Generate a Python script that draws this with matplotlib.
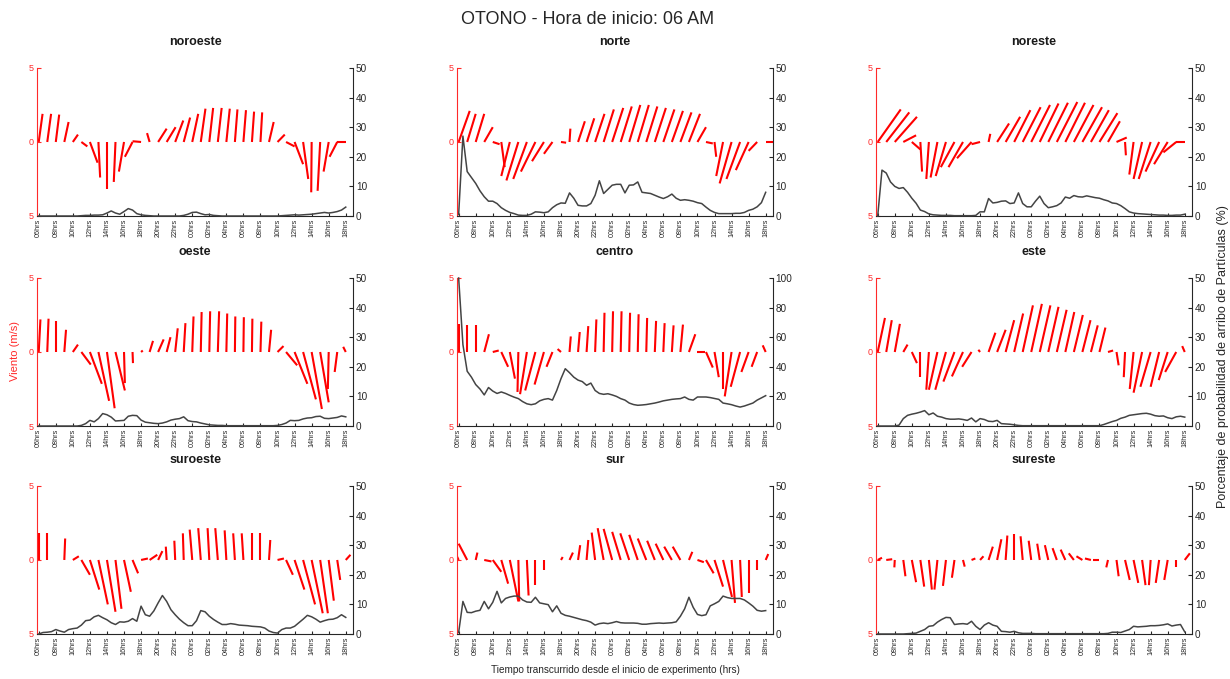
import numpy as np
import matplotlib
matplotlib.use('Agg')
import matplotlib.pyplot as plt
from matplotlib.collections import LineCollection

plt.rcParams['font.family'] = ['Liberation Sans', 'DejaVu Sans']

# ---- datos ----
tick_hours = [0, 2, 4, 6, 8, 10, 12, 14, 16, 18, 20, 22, 24, 26, 28, 30, 32, 34, 36]
tick_labels = ['06hrs', '08hrs', '10hrs', '12hrs', '14hrs', '16hrs', '18hrs', '20hrs', '22hrs',
               '00hrs', '02hrs', '04hrs', '06hrs', '08hrs', '10hrs', '12hrs', '14hrs', '16hrs', '18hrs']
wind_hours = np.arange(37)          # un vector de viento por hora
prob_hours = np.arange(73) * 0.5    # probabilidad cada media hora

# viento (componentes u, v en m/s)
u_noroeste = [0.45, 0.45, 0.4, 0.5, 0.6, 0.7, 0.9, 0.2, 0.0, -0.2, -0.6, -0.9, -1.0, -0.3, 1.0, 1.05, 0.95, 0.75, 0.7,
              0.55, 0.45, 0.45, 0.4, 0.3, 0.3, 0.25, 0.2, 0.55, 0.85, 1.0, 1.0, 0.6, -0.05, -0.3, -0.6, -0.9, -1.0]
v_noroeste = [1.9, 1.9, 1.85, 1.35, 0.5, -0.3, -1.4, -2.4, -3.2, -2.7, -2.0, -1.0, 0.05, 0.6, 0.9, 1.0, 1.45, 1.65, 1.9,
              2.25, 2.3, 2.3, 2.25, 2.2, 2.15, 2.05, 2.0, 1.35, 0.5, -0.3, -1.5, -2.5, -3.4, -3.3, -2.0, -1.0, 0.0]
u_norte = [1.3, 1.0, 1.0, 1.0, 0.8, 0.4, -1.0, -1.4, -1.6, -1.7, -1.4, -1.0, 0.6, 0.1, 0.8, 0.9, 1.1, 1.2, 1.3,
           1.3, 1.3, 1.3, 1.3, 1.3, 1.3, 1.3, 1.3, 1.3, 1.0, 0.8, 0.2, -0.8, -1.4, -1.6, -1.5, -1.0, 0.9]
v_norte = [2.1, 1.9, 1.9, 1.0, -0.15, -1.7, -2.3, -2.6, -2.5, -2.0, -1.3, -0.8, -0.05, 0.9, 1.4, 1.6, 1.9, 2.2, 2.3,
           2.4, 2.5, 2.5, 2.4, 2.3, 2.2, 2.1, 2.0, 1.9, 1.0, -0.1, -1.0, -2.3, -2.8, -2.5, -1.9, -0.6, 0.0]
u_noreste = [2.7, 2.7, 2.6, 1.5, 1.0, 0.2, -0.3, -0.8, -1.2, -1.6, -1.7, -1.7, -1.0, 0.2, 1.4, 1.7, 1.9, 2.1, 2.2,
             2.2, 2.3, 2.4, 2.3, 2.3, 2.3, 2.1, 2.1, 1.4, 1.2, 0.1, -0.5, -1.0, -1.4, -1.6, -1.6, -1.5, -1.0]
v_noreste = [2.2, 2.0, 1.7, 0.45, -0.5, -2.0, -2.5, -2.4, -2.3, -1.7, -1.7, -1.1, -0.15, 0.55, 1.25, 1.7, 2.15, 2.35,
             2.5, 2.6, 2.65, 2.7, 2.65, 2.5, 2.35, 2.15, 1.95, 1.4, 0.3, -0.9, -2.2, -2.5, -2.5, -2.0, -1.5, -0.7, 0.0]
u_oeste = [0.2, 0.15, 0.0, 0.2, 0.6, 1.1, 1.4, 1.25, 0.9, 1.1, 0.1, 0.05, 0.2, 0.4, 0.65, 0.45, 0.3, 0.2, 0.15,
           0.1, 0.1, 0.15, 0.1, 0.05, 0.05, 0.05, 0.1, 0.25, 0.7, 1.3, 1.5, 1.5, 1.2, 1.0, -0.1, -0.3, -0.3]
v_oeste = [2.2, 2.25, 2.1, 1.5, 0.5, -0.85, -2.15, -3.3, -3.8, -2.6, -2.1, -0.75, 0.1, 0.75, 0.85, 1.0, 1.6, 1.95, 2.4,
           2.7, 2.75, 2.75, 2.6, 2.4, 2.35, 2.25, 2.05, 1.5, 0.4, -0.9, -2.15, -3.2, -3.85, -3.4, -2.5, -1.35, 0.35]
u_centro = [0.0, 0.0, 0.0, 0.55, 0.7, 0.8, 0.6, -0.1, -0.8, -1.2, -1.1, -0.7, -0.4, 0.15, 0.2, 0.2, 0.15, 0.1, 0.1,
            0.1, 0.1, 0.1, 0.1, 0.15, 0.15, 0.2, 0.3, 0.75, 0.85, 0.8, 0.5, 0.0, -0.8, -1.1, -0.85, -0.65, -0.35]
v_centro = [1.9, 1.8, 1.85, 1.2, 0.1, -1.0, -1.8, -2.7, -2.85, -2.6, -2.2, -1.0, 0.2, 1.05, 1.35, 1.75, 2.2, 2.65, 2.75,
            2.75, 2.65, 2.55, 2.3, 2.1, 1.95, 1.8, 1.85, 1.2, 0.0, -1.05, -1.7, -2.5, -3.0, -2.35, -1.35, -1.0, 0.45]
u_este = [0.85, 0.65, 0.6, 0.5, 0.6, 0.0, -0.3, -1.0, -1.25, -1.3, -1.3, -1.1, -0.2, 0.8, 1.0, 1.0, 1.05, 1.2, 1.25,
          1.25, 1.2, 1.15, 1.05, 1.05, 0.95, 0.8, 0.7, 0.6, 0.25, -0.15, -0.45, -1.0, -1.2, -1.0, -1.05, -1.3, -0.3]
v_este = [2.3, 2.15, 1.9, 0.5, -0.75, -1.7, -2.55, -2.55, -2.55, -2.0, -1.65, -1.0, 0.15, 1.3, 1.5, 2.15, 2.6, 3.15, 3.25,
          3.15, 3.05, 2.85, 2.7, 2.5, 2.15, 1.8, 1.65, 0.1, -0.9, -1.7, -2.5, -2.75, -2.35, -2.35, -1.9, -1.35, 0.4]
u_suroeste = [0.0, 0.0, 0.0, 0.1, 0.7, 1.0, 1.1, 1.1, 1.0, 0.7, 0.8, 0.65, 0.8, 0.9, 0.5, -0.1, -0.1, -0.1, -0.3,
              -0.3, -0.2, -0.3, -0.2, -0.2, -0.2, 0.0, 0.0, 0.15, 0.75, 0.8, 1.15, 1.4, 1.3, 0.9, 0.6, 0.35, 0.55]
v_suroeste = [1.8, 1.85, 0.0, 1.45, 0.25, -1.0, -2.0, -3.0, -3.5, -3.3, -2.15, -0.9, 0.1, 0.35, 0.6, 0.9, 1.3, 1.8, 2.05,
              2.15, 2.15, 2.15, 2.0, 1.8, 1.8, 1.8, 1.8, 1.35, 0.1, -1.0, -2.0, -3.0, -3.6, -3.6, -2.75, -1.35, 0.35]
u_sur = [-0.9, -1.0, 0.2, 0.85, 1.0, 0.8, 1.0, 0.1, 0.2, 0.0, 0.0, 0.0, 0.2, 0.4, 0.25, 0.2, -0.4, -0.7, -1.0,
         -1.0, -1.05, -1.0, -1.0, -0.9, -0.9, -0.9, -0.9, 0.4, 0.75, 0.9, 1.0, 1.05, 0.4, 0.2, 0.0, 0.0, 0.3]
v_sur = [1.1, 1.1, 0.5, -0.1, -0.8, -1.6, -2.8, -2.8, -2.4, -1.7, -0.7, 0.0, 0.2, 0.5, 1.0, 1.35, 1.85, 2.15, 2.1,
         1.9, 1.8, 1.7, 1.45, 1.3, 1.1, 0.9, 0.9, 0.55, -0.15, -0.9, -1.8, -2.5, -2.9, -2.5, -2.25, -0.7, 0.4]
u_sureste = [0.5, 0.7, -0.05, 0.25, 0.5, 0.45, 0.35, -0.35, -0.35, -0.3, 0.2, 0.45, 0.4, 0.5, 0.5, 0.2, 0.0, -0.25, -0.3,
             -0.3, -0.4, -0.5, -0.55, -0.6, -0.7, -0.7, -0.8, -0.2, 0.25, 0.55, 0.55, 0.4, -0.2, -0.4, -0.4, 0.0, 0.6]
v_sureste = [0.15, 0.05, -0.5, -1.1, -1.5, -1.8, -2.0, -2.0, -1.75, -1.2, -0.45, 0.1, 0.25, 0.9, 1.4, 1.65, 1.75, 1.6, 1.3,
             1.1, 1.0, 0.8, 0.7, 0.45, 0.25, 0.1, 0.0, -0.5, -1.1, -1.35, -1.55, -1.7, -1.7, -1.55, -1.35, -0.45, 0.45]

# porcentaje de probabilidad de arribo de particulas (%)
p_noroeste = [0, 0, 0, 0, 0, 0, 0, 0, 0, 0, 0.1, 0.2,
              0.2, 0.3, 0.3, 0.4, 1.0, 1.7, 1.0, 0.6, 1.5, 2.5, 2.0, 0.8,
              0.4, 0.2, 0.1, 0, 0, 0, 0, 0, 0, 0, 0.2, 0.6,
              1.2, 1.3, 0.8, 0.4, 0.5, 0.2, 0.1, 0, 0, 0, 0, 0,
              0, 0, 0, 0, 0, 0, 0, 0, 0, 0.1, 0.2, 0.3,
              0.4, 0.3, 0.4, 0.5, 0.6, 0.8, 1.0, 1.2, 1.0, 1.2, 1.5, 2.0,
              3.0]
p_norte = [0.5, 27, 15, 13, 11, 8.5, 6.5, 5.0, 5.0, 4.2, 2.8, 1.9,
           1.2, 0.8, 0.3, 0.2, 0.2, 0.6, 1.4, 1.3, 1.1, 1.4, 2.8, 3.8,
           4.4, 4.3, 7.8, 6.0, 3.6, 3.4, 3.4, 4.2, 7.0, 11.9, 7.6, 9.0,
           10.4, 10.7, 10.7, 7.8, 10.4, 10.5, 11.5, 8.0, 7.8, 7.6, 7.0, 6.4,
           5.9, 6.5, 7.4, 6.0, 5.3, 5.5, 5.3, 5.0, 4.5, 4.2, 3.0, 1.9,
           1.2, 0.8, 0.8, 0.8, 0.8, 0.9, 0.9, 1.2, 1.9, 2.3, 3.1, 4.5,
           8.0]
p_noreste = [0, 15.5, 14.5, 11.5, 10.0, 9.3, 9.6, 8.0, 6.0, 4.3, 2.0, 1.5,
             0.7, 0.4, 0.3, 0.2, 0.2, 0.2, 0.1, 0.1, 0.1, 0.1, 0.1, 0.2,
             1.4, 1.4, 5.9, 4.4, 4.6, 5.0, 5.1, 4.2, 4.4, 7.8, 4.2, 3.1,
             3.1, 5.0, 6.7, 4.2, 2.8, 3.1, 3.5, 4.4, 6.4, 6.0, 6.9, 6.5,
             6.4, 6.8, 6.5, 6.2, 6.0, 5.5, 5.1, 4.4, 4.2, 3.5, 2.5, 1.4,
             1.0, 0.8, 0.7, 0.6, 0.5, 0.4, 0.3, 0.3, 0.2, 0.2, 0.3, 0.3,
             0.6]
p_oeste = [0, 0, 0, 0, 0, 0, 0, 0, 0, 0, 0.2, 0.8,
           1.9, 1.4, 2.5, 4.2, 3.8, 3.0, 1.7, 1.8, 1.9, 3.3, 3.6, 3.5,
           2.0, 1.3, 1.1, 0.9, 0.8, 1.0, 1.4, 2.0, 2.3, 2.5, 3.1, 1.8,
           1.5, 1.4, 1.0, 0.7, 0.4, 0.3, 0.2, 0.2, 0.1, 0.1, 0.1, 0.1,
           0.1, 0.1, 0.1, 0.1, 0.1, 0.1, 0.1, 0.1, 0.2, 0.5, 1.0, 1.9,
           1.8, 1.9, 2.4, 2.7, 2.8, 3.2, 3.3, 2.6, 2.5, 2.7, 2.9, 3.4,
           3.1]
p_centro = [100, 55, 37, 33, 28, 25, 21, 26, 23.6, 22, 23, 22,
            20.7, 19.5, 18.5, 16.5, 15, 14.4, 15, 17, 18, 18.5, 17.5, 24,
            32, 38.7, 36, 33, 31, 30, 27.5, 29, 24, 22, 21.4, 21.8,
            21, 20, 18.5, 17.5, 15.5, 14.5, 14, 14.2, 14.5, 15, 15.5, 16.2,
            17, 17.5, 18, 18.3, 18.5, 19.6, 18, 17.5, 19.6, 19.6, 19.6, 19.2,
            18.6, 18, 15.5, 15, 14.4, 13.5, 12.8, 13.5, 14.5, 15.5, 17.5, 19,
            20.5]
p_este = [0, 0, 0, 0, 0, 0.3, 2.5, 3.6, 4.0, 4.3, 4.7, 5.2,
          3.8, 4.4, 3.3, 3.0, 2.5, 2.3, 2.3, 2.4, 2.2, 1.9, 2.7, 1.4,
          2.5, 2.2, 1.6, 1.5, 1.9, 0.8, 0.7, 0.6, 0.4, 0.2, 0.1, 0.1,
          0.1, 0.1, 0.1, 0.1, 0.1, 0.1, 0.1, 0.1, 0.1, 0.1, 0.1, 0.1,
          0.1, 0.1, 0.1, 0.1, 0.1, 0.5, 1.0, 1.5, 1.9, 2.6, 3.0, 3.6,
          3.8, 4.0, 4.2, 4.3, 4.0, 3.5, 3.3, 3.4, 2.8, 2.5, 3.1, 3.3,
          3.0]
p_suroeste = [0, 0.5, 0.6, 0.8, 1.5, 1.0, 0.6, 1.5, 1.8, 2.0, 3.0, 4.5,
              4.7, 5.8, 6.3, 5.5, 4.8, 3.8, 3.2, 4.1, 4.0, 4.3, 5.2, 4.3,
              9.4, 6.5, 6.0, 7.8, 10.5, 13.0, 11.0, 8.2, 6.5, 5.0, 3.8, 2.8,
              2.8, 4.5, 7.9, 7.5, 6.0, 4.9, 4.0, 3.2, 3.2, 3.5, 3.3, 3.0,
              2.9, 2.8, 2.6, 2.5, 2.4, 2.0, 1.0, 0.5, 0.3, 1.5, 2.0, 2.0,
              2.6, 3.8, 5.0, 6.3, 5.8, 5.0, 4.0, 4.5, 4.9, 5.0, 5.5, 6.5,
              5.6]
p_sur = [0.5, 11, 7.3, 7.2, 7.7, 8.0, 11, 8.5, 10.7, 14.4, 10.5, 12.0,
         12.5, 12.8, 12.8, 11.5, 10.8, 10.7, 12.4, 10.5, 10.2, 9.9, 7.5, 9.5,
         7.0, 6.3, 6.0, 5.6, 5.2, 4.8, 4.5, 4.0, 3.0, 3.5, 3.7, 3.5,
         3.8, 4.2, 3.8, 3.7, 3.7, 3.7, 3.6, 3.3, 3.3, 3.5, 3.6, 3.7,
         3.6, 3.7, 3.8, 4.1, 6.0, 8.5, 12.4, 9.0, 6.6, 6.2, 6.5, 9.5,
         10.2, 11.0, 12.8, 12.3, 12, 12, 12, 11.5, 10.5, 9.4, 8.0, 7.7,
         7.9]
p_sureste = [0, 0, 0, 0, 0, 0, 0, 0.1, 0.2, 0.3, 0.9, 1.5,
             2.6, 2.8, 4.0, 4.9, 5.6, 5.5, 3.2, 3.4, 3.5, 3.3, 4.3, 2.6,
             1.5, 3.0, 3.8, 3.0, 2.6, 0.9, 0.8, 0.6, 0.9, 0.4, 0.2, 0.2,
             0.2, 0.1, 0.1, 0.1, 0.1, 0.1, 0.1, 0.1, 0.1, 0.1, 0.1, 0.1,
             0.1, 0.1, 0.1, 0.1, 0.1, 0.1, 0.2, 0.6, 0.6, 0.5, 1.0, 1.5,
             2.6, 2.4, 2.5, 2.6, 2.8, 2.8, 2.9, 3.1, 3.4, 2.7, 3.0, 3.2,
             0.7]

panels = [
    ('noroeste', u_noroeste, v_noroeste, p_noroeste, 50),
    ('norte', u_norte, v_norte, p_norte, 50),
    ('noreste', u_noreste, v_noreste, p_noreste, 50),
    ('oeste', u_oeste, v_oeste, p_oeste, 50),
    ('centro', u_centro, v_centro, p_centro, 100),
    ('este', u_este, v_este, p_este, 50),
    ('suroeste', u_suroeste, v_suroeste, p_suroeste, 50),
    ('sur', u_sur, v_sur, p_sur, 50),
    ('sureste', u_sureste, v_sureste, p_sureste, 50),
]

RED = '#ff2a2a'
GRAY = '#262626'
W_PX, H_PX = 1230, 679

col_left = [0.0301, 0.3715, 0.7122]
row_bottom = [0.6819, 0.3726, 0.0663]
ax_w, ax_h = 0.2569, 0.218

fig = plt.figure(figsize=(12.3, 6.79), dpi=100)

for k, (name, u, v, p, pmax) in enumerate(panels):
    assert len(u) == 37 and len(v) == 37 and len(p) == 73, name
    r, c = divmod(k, 3)
    ax = fig.add_axes([col_left[c], row_bottom[r], ax_w, ax_h])

    # vectores de viento (tipo feather)
    segs = [[(h, 0.0), (h + du, dv)] for h, du, dv in zip(wind_hours, u, v)]
    ax.add_collection(LineCollection(segs, colors='red', linewidths=1.5, capstyle='butt'))
    ax.set_xlim(-0.2, 36.85)
    ax.set_ylim(-5, 5)
    ax.set_yticks([-5, 0, 5])
    ax.set_yticklabels(['5', '0', '5'])
    ax.set_xticks(tick_hours)
    ax.set_xticklabels(tick_labels, rotation=90)
    ax.tick_params(axis='y', colors=RED, labelsize=6.5, direction='in', length=3, pad=2.5)
    ax.tick_params(axis='x', colors=GRAY, labelsize=5.2, direction='in', length=2.5, pad=2)
    ax.spines['top'].set_visible(False)
    ax.spines['right'].set_visible(False)
    ax.spines['left'].set_color(RED)
    ax.spines['bottom'].set_color(GRAY)
    for s in ax.spines.values():
        s.set_linewidth(0.8)

    # probabilidad de arribo
    ax2 = ax.twinx()
    ax2.plot(prob_hours, p, color='#444444', lw=1.1, clip_on=False)
    ax2.set_ylim(0, pmax)
    ax2.set_yticks(np.linspace(0, pmax, 6))
    ax2.tick_params(axis='y', colors=GRAY, labelsize=7.2, direction='in', length=3, pad=2)
    ax2.spines['top'].set_visible(False)
    ax2.spines['left'].set_visible(False)
    ax2.spines['bottom'].set_visible(False)
    ax2.spines['right'].set_color(GRAY)
    ax2.spines['right'].set_linewidth(0.8)

    ax.text(0.5, 1 + 26 / 148, name, transform=ax.transAxes, ha='center', va='center',
            fontsize=9, fontweight='bold', color='#1a1a1a')

fig.text(588 / W_PX, 1 - 20 / H_PX, 'OTONO - Hora de inicio: 06 AM', ha='center', va='center',
         fontsize=13, color=GRAY)
fig.text(15 / W_PX, 1 - 351 / H_PX, 'Viento (m/s)', rotation=90, ha='center', va='center',
         fontsize=8, color=RED)
fig.text(1223 / W_PX, 1 - 357 / H_PX, 'Porcentaje de probabilidad de arribo de Partículas (%)',
         rotation=90, ha='center', va='center', fontsize=9, color=GRAY)
fig.text(615 / W_PX, 1 - 670 / H_PX, 'Tiempo transcurrido desde el inicio de experimento (hrs)',
         ha='center', va='center', fontsize=7.2, color=GRAY)

fig.savefig('out.png', dpi=100)
